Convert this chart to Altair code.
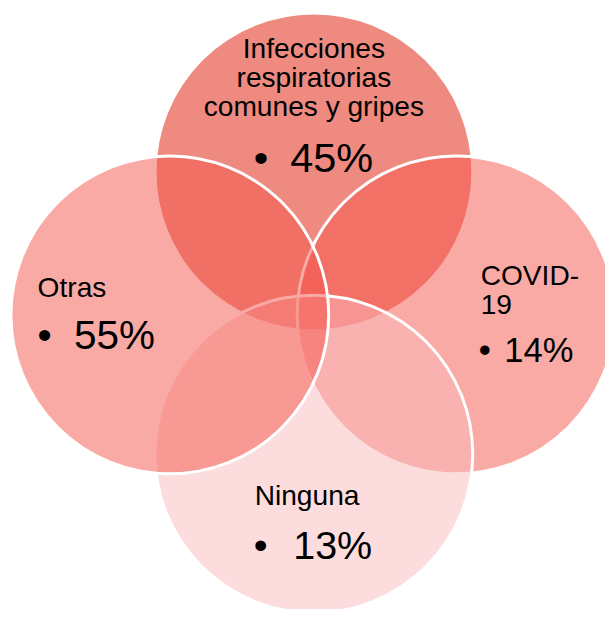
import altair as alt
import pandas as pd

# Circle layout (pixel offsets from the diagram centre, y up), draw order: top, right, bottom, left
circle_names = ["Infecciones respiratorias comunes y gripes", "COVID-19", "Ninguna", "Otras"]
circle_cx = [0, 144, 0, -146]
circle_cy = [145, 0, -141, 0]
circle_fill = ["#DD1501", "#F5554B", "#F9B9BB", "#F4554B"]

# Category labels
label_text = ["Infecciones", "respiratorias", "comunes y gripes",
              "Otras", "COVID-", "19", "Ninguna"]
label_x = [0, 0, 0, -280, 169, 169, -60]
label_y = [260, 231, 202, 18, 30, 1, -193]
label_align = ["center", "center", "center", "left", "left", "left", "left"]
label_size = [28.5, 28.5, 28.5, 28.5, 28.5, 28.5, 28.5]

# Percentages with their bullets
value_text = ["45%", "55%", "14%", "13%"]
value_x = [-24, -243, 193, -21]
value_y = [145, -35, -48, -247]
value_size = [42, 41, 35, 40]
bullet_x = [-61, -280, 167, -61]

W, H = 605, 601
X_DOM = [-310, 295]
Y_DOM = [-294, 307]
DIAM = 322

circles = pd.DataFrame({"name": circle_names, "cx": circle_cx, "cy": circle_cy,
                        "fill": circle_fill})
labels = pd.DataFrame({"text": label_text, "x": label_x, "y": label_y,
                       "align": label_align, "size": label_size})
values = pd.DataFrame({"text": value_text, "x": value_x, "y": value_y,
                       "align": "left", "size": value_size})
bullets = pd.DataFrame({"text": "•", "x": bullet_x, "y": value_y,
                        "align": "left", "size": value_size})

xs = alt.Scale(domain=X_DOM, nice=False, zero=False)
ys = alt.Scale(domain=Y_DOM, nice=False, zero=False)

circ = alt.Chart(circles).mark_point(
    shape="circle", filled=True, fillOpacity=0.5,
    stroke="white", strokeWidth=3, strokeOpacity=1, size=DIAM * DIAM
).encode(
    x=alt.X("cx:Q", scale=xs, axis=None),
    y=alt.Y("cy:Q", scale=ys, axis=None),
    fill=alt.Fill("fill:N", scale=None),
)

def text_layer(d, align):
    d = d[d["align"] == align]
    return alt.Chart(d).mark_text(
        align=align, baseline="alphabetic", font="Liberation Sans", color="black"
    ).encode(
        x=alt.X("x:Q", scale=xs, axis=None),
        y=alt.Y("y:Q", scale=ys, axis=None),
        text="text:N",
        size=alt.Size("size:Q", scale=None),
    )

chart = alt.layer(
    circ,
    text_layer(labels, "center"),
    text_layer(labels, "left"),
    text_layer(values, "left"),
    text_layer(bullets, "left"),
).properties(
    width=W, height=H, autosize=alt.AutoSizeParams(type="none"), padding=0,
    background="white"
).configure_view(stroke=None)

chart.save("out.html", embed_options={"renderer": "svg", "actions": False})
